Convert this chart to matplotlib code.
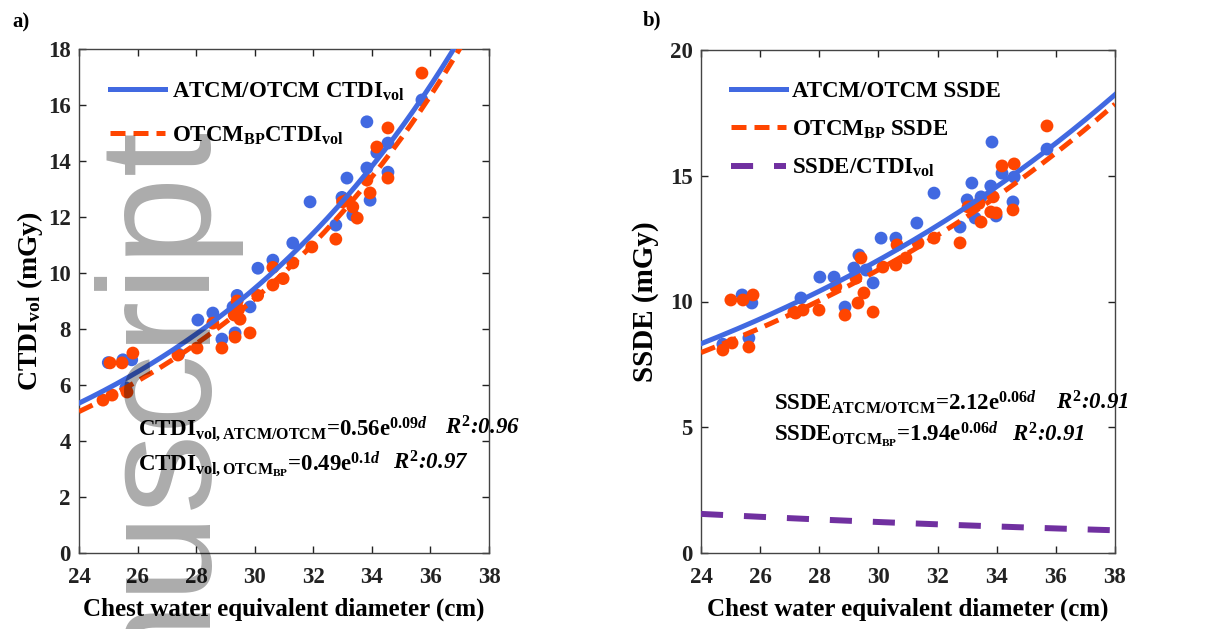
import numpy as np
import matplotlib
matplotlib.use('Agg')
import matplotlib.pyplot as plt

plt.rcParams['font.family'] = ['Liberation Serif', 'DejaVu Serif']
plt.rcParams['font.weight'] = 'bold'
plt.rcParams['axes.labelweight'] = 'bold'
plt.rcParams['mathtext.fontset'] = 'custom'
plt.rcParams['mathtext.rm'] = 'Liberation Serif:bold'
plt.rcParams['mathtext.bf'] = 'Liberation Serif:bold'
plt.rcParams['mathtext.it'] = 'Liberation Serif:italic:bold'

# panel a) CTDIvol scatter
ctdi_atcm_x = [25.0, 25.5, 25.8, 25.6, 27.4, 28.06, 28.57, 28.88, 29.33, 29.26, 29.84, 29.4,
               30.11, 30.62, 31.3, 31.89, 32.77, 32.98, 33.15, 33.35, 33.83, 33.83, 33.94,
               34.17, 34.55, 34.55, 35.71]
ctdi_atcm_y = [6.8, 6.9, 6.9, 5.9, 7.1, 8.32, 8.57, 7.64, 7.86, 8.79, 8.79, 9.2,
               10.17, 10.46, 11.07, 12.54, 11.71, 12.7, 13.39, 12.07, 13.75, 15.4, 12.6,
               14.3, 14.64, 13.6, 16.18]
ctdi_bp_x = [24.82, 25.13, 25.64, 25.06, 25.47, 25.84, 27.38, 28.03, 28.57, 28.88, 29.33,
             29.3, 29.45, 29.5, 29.84, 29.4, 30.1, 30.62, 30.62, 30.97, 31.3, 31.95, 32.77,
             33.0, 33.15, 33.35, 33.5, 33.83, 33.94, 34.17, 34.55, 34.55, 35.71]
ctdi_bp_y = [5.46, 5.64, 5.75, 6.79, 6.79, 7.14, 7.07, 7.32, 8.21, 7.32, 7.71,
             8.5, 8.7, 8.35, 7.86, 9.0, 9.2, 10.2, 9.57, 9.8, 10.36, 10.93, 11.21,
             12.54, 12.6, 12.36, 11.96, 13.32, 12.86, 14.5, 15.18, 13.39, 17.14]

# panel b) SSDE scatter
ssde_atcm_x = [24.74, 25.39, 25.72, 25.62, 27.38, 28.02, 28.5, 28.87, 29.17, 29.34, 29.58,
               29.82, 30.09, 30.59, 31.3, 31.88, 32.76, 33.0, 33.16, 33.27, 33.47, 33.84,
               33.8, 33.98, 34.18, 34.59, 34.55, 35.7]
ssde_atcm_y = [8.3, 10.26, 9.94, 8.55, 10.14, 10.97, 10.97, 9.78, 11.33, 11.85, 11.25,
               10.74, 12.52, 12.52, 13.12, 14.31, 12.96, 14.04, 14.71, 13.32, 14.16, 16.34,
               14.59, 13.4, 15.1, 14.95, 13.96, 16.06]
ssde_bp_x = [24.74, 25.05, 25.62, 25.01, 25.42, 25.76, 27.14, 27.2, 27.45, 27.99, 28.56,
             28.87, 29.41, 29.24, 29.31, 29.51, 29.82, 30.15, 30.63, 30.59, 30.93, 31.34,
             31.88, 32.76, 33.03, 33.16, 33.47, 33.4, 33.88, 33.8, 33.98, 34.18, 34.59,
             34.55, 35.7]
ssde_bp_y = [8.07, 8.35, 8.19, 10.06, 10.06, 10.26, 9.58, 9.54, 9.66, 9.66, 10.58,
             9.46, 11.73, 10.93, 9.94, 10.34, 9.58, 11.37, 12.25, 11.45, 11.73, 12.33,
             12.52, 12.33, 13.76, 13.76, 13.16, 13.9, 14.16, 13.56, 13.52, 15.39, 15.47,
             13.64, 16.98]

# exponential fits y = a*exp(b*d)
ctdi_atcm_fit = (0.55, 0.0948)
ctdi_bp_fit = (0.483, 0.0978)
ssde_atcm_fit = (2.17, 0.056)
ssde_bp_fit = (2.0, 0.0576)

blue = '#4169E1'
red = '#FF4500'
purple = '#7030A0'

d = np.linspace(24, 38, 300)


def fit(p, x):
    return p[0] * np.exp(p[1] * x)


fig = plt.figure(figsize=(12.16, 6.29), dpi=100)
ax1 = fig.add_axes([79 / 1216, 1 - 553 / 629, 410 / 1216, 504 / 629])
ax2 = fig.add_axes([701 / 1216, 1 - 553 / 629, 414 / 1216, 503 / 629])

fs = 16.5

# ---- panel a
ax1.scatter(ctdi_atcm_x, ctdi_atcm_y, s=85, color=blue, edgecolors='none', zorder=2)
ax1.scatter(ctdi_bp_x, ctdi_bp_y, s=85, color=red, edgecolors='none', zorder=2)
ax1.plot(d, fit(ctdi_atcm_fit, d), color=blue, lw=3.6, zorder=3,
         label=r'ATCM/OTCM CTDI$_{\mathrm{vol}}$')
ax1.plot(d, fit(ctdi_bp_fit, d), color=red, lw=3.6, ls=(0, (3, 1.6)), zorder=3,
         label=r'OTCM$_{\mathrm{BP}}$CTDI$_{\mathrm{vol}}$')
ax1.set_xlim(24, 38)
ax1.set_ylim(0, 18)
ax1.set_xticks(range(24, 39, 2))
ax1.set_yticks(range(0, 19, 2))
ax1.set_xlabel('Chest water equivalent diameter (cm)', fontsize=18, labelpad=7)
ax1.set_ylabel(r'CTDI$_{\mathrm{vol}}$ (mGy)', fontsize=20, labelpad=2)
ax1.legend(loc='upper left', bbox_to_anchor=(0.076, 0.938), frameon=False, fontsize=fs,
           handlelength=2.4, handletextpad=0.3, labelspacing=0.95, borderaxespad=0,
           borderpad=0)
ax1.text(0.144, 0.235, r'CTDI$_{\mathrm{vol,ATCM/OTCM}}$=0.56e$^{0.09d}$',
         transform=ax1.transAxes, fontsize=fs)
ax1.text(0.893, 0.235, r'$R^{2}$:0.96', transform=ax1.transAxes, fontsize=fs, style='italic')
ax1.text(0.144, 0.165, r'CTDI$_{\mathrm{vol,OTCM_{BP}}}$=0.49e$^{0.1d}$',
         transform=ax1.transAxes, fontsize=fs)
ax1.text(0.766, 0.165, r'$R^{2}$:0.97', transform=ax1.transAxes, fontsize=fs, style='italic')

# ---- panel b
ax2.scatter(ssde_atcm_x, ssde_atcm_y, s=85, color=blue, edgecolors='none', zorder=2)
ax2.scatter(ssde_bp_x, ssde_bp_y, s=85, color=red, edgecolors='none', zorder=2)
ax2.plot(d, fit(ssde_atcm_fit, d), color=blue, lw=3.6, zorder=3, label='ATCM/OTCM SSDE')
ax2.plot(d, fit(ssde_bp_fit, d), color=red, lw=3.6, ls=(0, (3, 1.6)), zorder=3,
         label=r'OTCM$_{\mathrm{BP}}$ SSDE')
ax2.plot(d, fit(ssde_atcm_fit, d) / fit(ctdi_atcm_fit, d), color=purple, lw=4.3,
         ls=(0, (3.7, 3.5)), zorder=3, label=r'SSDE/CTDI$_{\mathrm{vol}}$')
ax2.set_xlim(24, 38)
ax2.set_ylim(0, 20)
ax2.set_xticks(range(24, 39, 2))
ax2.set_yticks(range(0, 21, 5))
ax2.set_xlabel('Chest water equivalent diameter (cm)', fontsize=18, labelpad=7)
ax2.set_ylabel('SSDE (mGy)', fontsize=21, labelpad=8)
ax2.legend(loc='upper left', bbox_to_anchor=(0.072, 0.938), frameon=False, fontsize=fs,
           handlelength=2.4, handletextpad=0.25, labelspacing=0.7, borderaxespad=0,
           borderpad=0)
ax2.text(0.176, 0.285, r'SSDE$_{\mathrm{ATCM/OTCM}}$=2.12e$^{0.06d}$',
         transform=ax2.transAxes, fontsize=fs)
ax2.text(0.857, 0.285, r'$R^{2}$:0.91', transform=ax2.transAxes, fontsize=fs, style='italic')
ax2.text(0.176, 0.222, r'SSDE$_{\mathrm{OTCM_{BP}}}$=1.94e$^{0.06d}$',
         transform=ax2.transAxes, fontsize=fs)
ax2.text(0.751, 0.222, r'$R^{2}$:0.91', transform=ax2.transAxes, fontsize=fs, style='italic')

for ax in (ax1, ax2):
    ax.tick_params(direction='in', length=5, width=1, top=True, right=True,
                   labelsize=16.5, colors='#222222')
    ax.tick_params(axis='x', pad=10)
    ax.tick_params(axis='y', pad=6)
    for sp in ax.spines.values():
        sp.set_color('#444444')
        sp.set_linewidth(1)
    for lab in ax.get_xticklabels() + ax.get_yticklabels():
        lab.set_fontweight('bold')

fig.text(12 / 1216, 1 - 22 / 629, 'a)', fontsize=15, va='center')
fig.text(643 / 1216, 1 - 20 / 629, 'b)', fontsize=15, va='center')

# grey watermark
fig.text(198 / 1216, 1 - 118 / 629, 'Manuscript', rotation=90, rotation_mode='anchor',
         ha='right', va='baseline', fontsize=115, family='Liberation Sans',
         fontweight='normal', color='black', alpha=0.33, zorder=10)

fig.savefig('out.png', dpi=100)
